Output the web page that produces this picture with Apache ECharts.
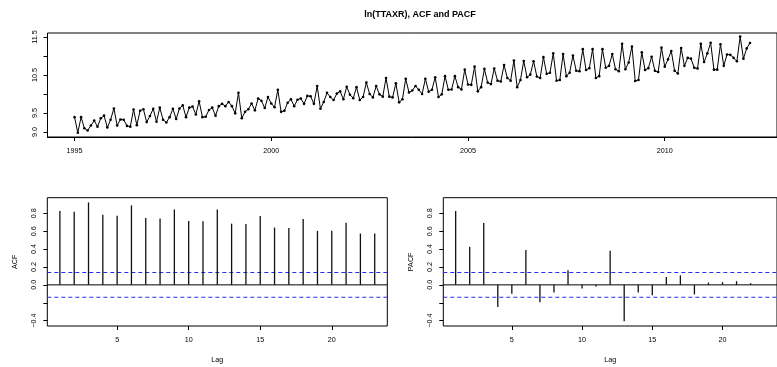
<!DOCTYPE html>
<html><head><meta charset="utf-8">
<script src="https://cdn.jsdelivr.net/npm/echarts@6/dist/echarts.min.js"></script>
<style>html,body{margin:0;padding:0;background:#fff}#c{width:777px;height:367px}</style>
</head><body><div id="c"></div>
<script>
// ---- data: ln(TTAXR), monthly from 1995-01 ----
const startYear = 1995;
const y1995 = [9.39, 8.98, 9.39, 9.10, 9.04, 9.17, 9.30, 9.14, 9.36, 9.43, 9.12, 9.32];
const y1996 = [9.62, 9.17, 9.33, 9.32, 9.16, 9.14, 9.59, 9.18, 9.56, 9.60, 9.26, 9.42];
const y1997 = [9.61, 9.27, 9.64, 9.32, 9.25, 9.39, 9.61, 9.34, 9.62, 9.70, 9.39, 9.64];
const y1998 = [9.67, 9.46, 9.81, 9.39, 9.40, 9.58, 9.64, 9.43, 9.68, 9.74, 9.68, 9.79];
const y1999 = [9.68, 9.49, 10.03, 9.36, 9.53, 9.60, 9.75, 9.57, 9.88, 9.82, 9.63, 9.92];
const y2000 = [9.75, 9.65, 10.11, 9.53, 9.56, 9.77, 9.86, 9.68, 9.85, 9.88, 9.74, 9.95];
const y2001 = [9.94, 9.74, 10.21, 9.61, 9.79, 10.03, 9.92, 9.84, 10.01, 10.07, 9.86, 10.19];
const y2002 = [9.98, 9.89, 10.18, 9.84, 9.92, 10.30, 10.00, 9.91, 10.21, 9.99, 9.93, 10.42];
const y2003 = [9.93, 9.91, 10.28, 9.78, 9.86, 10.40, 10.04, 10.09, 10.21, 10.11, 10.00, 10.40];
const y2004 = [10.06, 10.11, 10.44, 9.92, 9.99, 10.47, 10.11, 10.12, 10.47, 10.18, 10.12, 10.64];
const y2005 = [10.25, 10.24, 10.72, 10.07, 10.18, 10.66, 10.30, 10.26, 10.67, 10.35, 10.33, 10.76];
const y2006 = [10.42, 10.35, 10.88, 10.18, 10.37, 10.87, 10.44, 10.51, 10.86, 10.46, 10.42, 10.97];
const y2007 = [10.53, 10.56, 11.07, 10.35, 10.37, 11.05, 10.47, 10.56, 11.01, 10.61, 10.60, 11.18];
const y2008 = [10.63, 10.68, 11.18, 10.42, 10.47, 11.18, 10.69, 10.74, 11.05, 10.65, 10.60, 11.32];
const y2009 = [10.65, 10.83, 11.25, 10.34, 10.37, 11.10, 10.63, 10.68, 10.98, 10.61, 10.58, 11.22];
const y2010 = [10.72, 10.91, 11.13, 10.61, 10.54, 11.21, 10.74, 10.95, 10.93, 10.69, 10.67, 11.32];
const y2011 = [10.84, 11.07, 11.35, 10.64, 10.64, 11.31, 10.74, 11.04, 11.03, 10.95, 10.86, 11.51];
const y2012 = [10.93, 11.20, 11.34];

// ---- ACF / PACF ----
const acfValues = [0.826, 0.819, 0.922, 0.785, 0.774, 0.889, 0.748, 0.741, 0.844, 0.715, 0.711, 0.844,
                   0.685, 0.681, 0.770, 0.641, 0.637, 0.737, 0.604, 0.604, 0.696, 0.574, 0.574];
const pacfValues = [0.826, 0.426, 0.693, -0.248, -0.100, 0.389, -0.193, -0.085, 0.163, -0.040, -0.019,
                    0.381, -0.407, -0.085, -0.115, 0.089, 0.107, -0.107, 0.026, 0.030, 0.041, 0.019];
const ciBound = 0.139;

// ---- tick labels ----
const topYTicks = [9.0, 9.5, 10.0, 10.5, 11.0, 11.5];
const topYLabels = [9.0, 9.5, 10.5, 11.5];
const topXTicks = [1995, 2000, 2005, 2010];
const corrYTicks = [-0.4, -0.2, 0, 0.2, 0.4, 0.6, 0.8];
const corrYLabels = [-0.4, 0, 0.2, 0.4, 0.6, 0.8];
const lagTicks = [5, 10, 15, 20];

const titleText = 'ln(TTAXR), ACF and PACF';

// ---- build ----
const allValues = [].concat(y1995, y1996, y1997, y1998, y1999, y2000, y2001, y2002, y2003,
  y2004, y2005, y2006, y2007, y2008, y2009, y2010, y2011, y2012);
const tsData = allValues.map((v, i) => [startYear + i / 12, v]);
const acfData = acfValues.map((v, i) => [i + 1, v]);
const pacfData = pacfValues.map((v, i) => [i + 1, v]);

const FONT = 'Liberation Sans, Arial, Helvetica, sans-serif';
const BLUE = '#2a2af0';
const LAG_MIN = 0.12, LAG_MAX = 23.88;
const fmtCorr = v => (Math.abs(v) < 1e-9 ? '0.0' : (v < 0 ? '\u2212' + Math.abs(v).toFixed(1) : v.toFixed(1)));

function spike(params, api) {
  const p0 = api.coord([api.value(0), 0]);
  const p1 = api.coord([api.value(0), api.value(1)]);
  return { type: 'line', shape: { x1: p0[0], y1: p0[1], x2: p1[0], y2: p1[1] },
           style: { stroke: '#111', lineWidth: 1.3 } };
}

// horizontal reference line spanning the panel (abline)
function hRule(params, api) {
  const a = api.coord([LAG_MIN, api.value(0)]);
  const b = api.coord([LAG_MAX, api.value(0)]);
  const dashed = api.value(1) === 1;
  return { type: 'line', shape: { x1: a[0], y1: a[1], x2: b[0], y2: b[1] },
           style: { stroke: dashed ? BLUE : '#000', lineWidth: dashed ? 1.1 : 1, lineDash: dashed ? [4, 3] : null } };
}
const refData = [[0, 0], [ciBound, 1], [-ciBound, 1]];

const tickStyle = { show: true, inside: false, length: 4, lineStyle: { color: '#000', width: 1 } };
const labelStyle = { color: '#000', fontFamily: FONT, fontSize: 7.2 };
const nameStyle = { color: '#000', fontFamily: FONT, fontSize: 7.2 };

function lagAxis(gi) {
  return {
    type: 'value', gridIndex: gi, min: LAG_MIN, max: LAG_MAX,
    name: 'Lag', nameLocation: 'middle', nameGap: 31, nameTextStyle: nameStyle,
    axisLine: { show: false, onZero: false },
    splitLine: { show: false },
    axisTick: Object.assign({}, tickStyle, { customValues: lagTicks }),
    axisLabel: Object.assign({}, labelStyle, { customValues: lagTicks, margin: 11 }),
  };
}
function corrAxis(gi, name) {
  return {
    type: 'value', gridIndex: gi, min: -0.46, max: 0.975,
    name: name, nameLocation: 'middle', nameGap: 29, nameRotate: 90, nameTextStyle: nameStyle,
    axisLine: { show: false, onZero: false },
    splitLine: { show: false },
    axisTick: Object.assign({}, tickStyle, { customValues: corrYTicks }),
    axisLabel: Object.assign({}, labelStyle, { customValues: corrYLabels, rotate: 90, margin: 10, formatter: fmtCorr }),
  };
}

const chart = echarts.init(document.getElementById('c'), null, { renderer: 'canvas' });
chart.setOption({
  animation: false,
  backgroundColor: '#fff',
  title: {
    text: titleText, left: 415, top: 5, textAlign: 'center',
    textStyle: { fontFamily: FONT, fontSize: 9, fontWeight: 'bold', color: '#000' }
  },
  grid: [
    { left: 47.5, top: 33, right: -5, bottom: 230, show: true, borderColor: '#000', borderWidth: 1, containLabel: false },
    { left: 47.3, top: 197.7, right: 389.7, bottom: 41, show: true, borderColor: '#000', borderWidth: 1, containLabel: false },
    { left: 443.3, top: 197.7, right: -7, bottom: 41, show: true, borderColor: '#000', borderWidth: 1, containLabel: false },
  ],
  xAxis: [
    {
      type: 'value', gridIndex: 0, min: 1994.313, max: 2012.853,
      axisLine: { show: true, onZero: false, lineStyle: { color: '#000', width: 1 } },
      splitLine: { show: false },
      axisTick: Object.assign({}, tickStyle, { customValues: topXTicks }),
      axisLabel: Object.assign({}, labelStyle, { customValues: topXTicks, margin: 11, formatter: v => String(Math.round(v)) }),
    },
    lagAxis(1),
    lagAxis(2),
  ],
  yAxis: [
    {
      type: 'value', gridIndex: 0, min: 8.868, max: 11.605,
      axisLine: { show: false, onZero: false },
      splitLine: { show: false },
      axisTick: Object.assign({}, tickStyle, { customValues: topYTicks }),
      axisLabel: Object.assign({}, labelStyle, { customValues: topYLabels, rotate: 90, margin: 9, formatter: v => v.toFixed(1) }),
    },
    corrAxis(1, 'ACF'),
    corrAxis(2, 'PACF'),
  ],
  series: [
    {
      type: 'line', xAxisIndex: 0, yAxisIndex: 0, data: tsData,
      symbol: 'circle', symbolSize: 2.6, showAllSymbol: true,
      itemStyle: { color: '#000', borderWidth: 0 },
      lineStyle: { color: '#000', width: 1 }, silent: true,
    },
    {
      type: 'custom', xAxisIndex: 1, yAxisIndex: 1, data: refData,
      encode: { y: 0 }, renderItem: hRule, silent: true, clip: true,
    },
    {
      type: 'custom', xAxisIndex: 1, yAxisIndex: 1, data: acfData,
      encode: { x: 0, y: 1 }, renderItem: spike, silent: true,
    },
    {
      type: 'custom', xAxisIndex: 2, yAxisIndex: 2, data: refData,
      encode: { y: 0 }, renderItem: hRule, silent: true, clip: true,
    },
    {
      type: 'custom', xAxisIndex: 2, yAxisIndex: 2, data: pacfData,
      encode: { x: 0, y: 1 }, renderItem: spike, silent: true,
    },
  ]
});
</script>
</body></html>
